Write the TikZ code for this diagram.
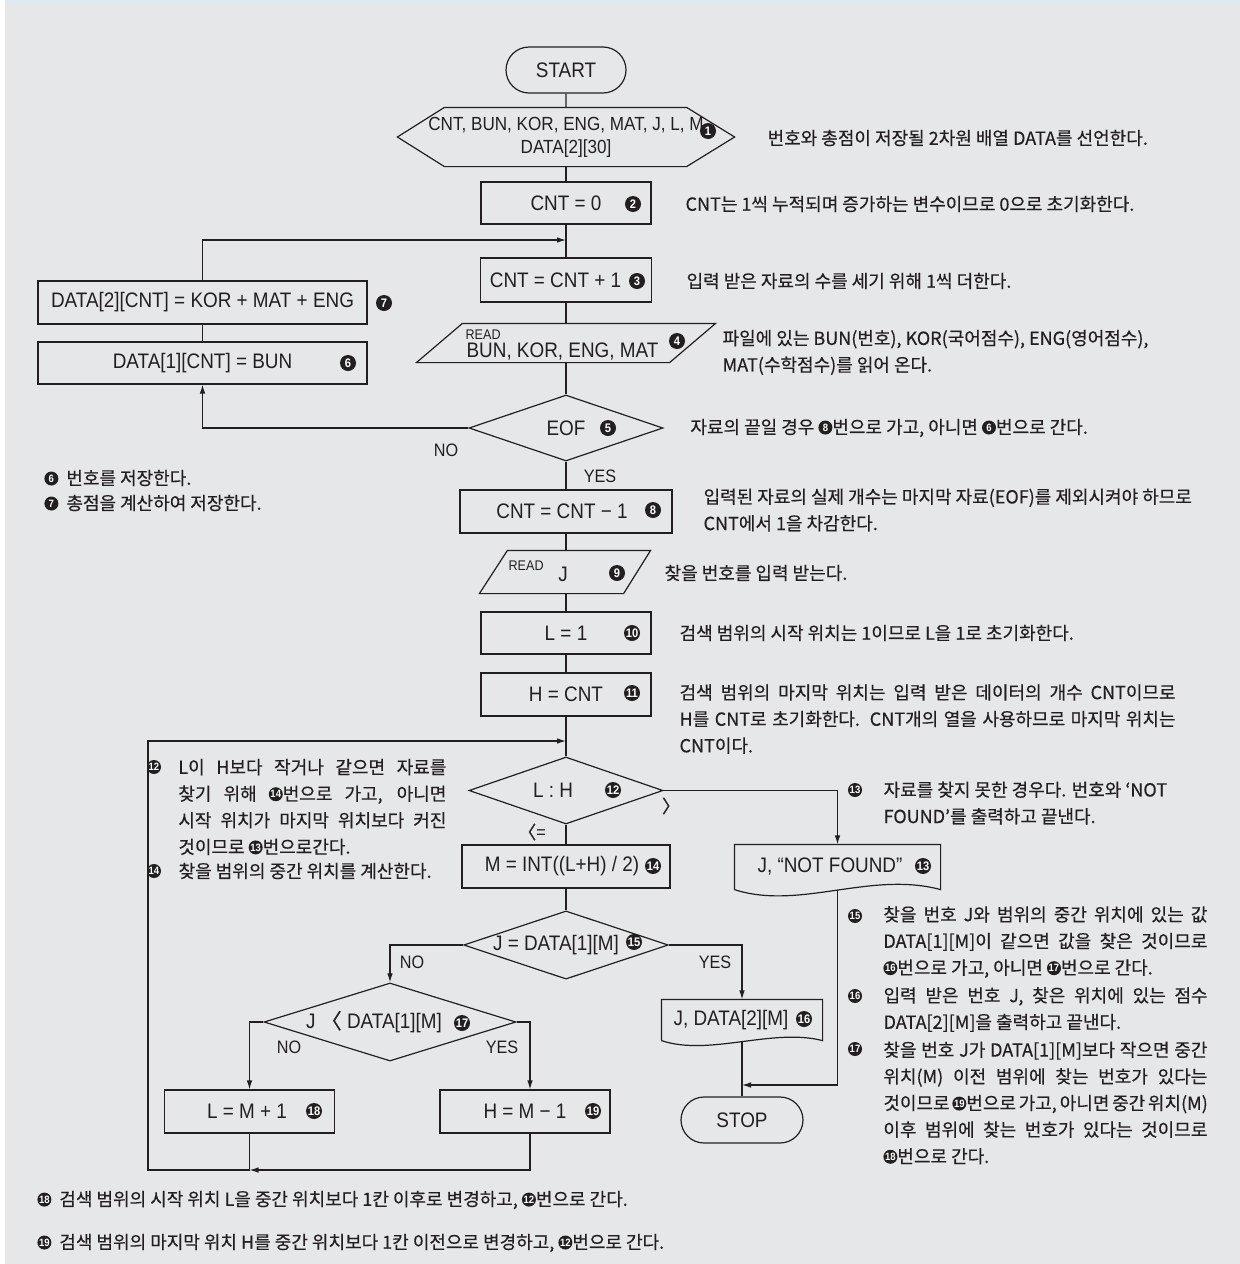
\documentclass[tikz,border=0pt]{standalone}
\usepackage{fontspec}
\setmainfont{Noto Sans CJK KR}
\newfontfamily\kr{Noto Sans CJK KR}[FakeBold=0.4]
\newfontfamily\flowlatin{Liberation Sans}[FakeStretch=0.9]
\usetikzlibrary{arrows.meta,shapes.geometric,shapes.misc}

\definecolor{bggray}{RGB}{230,231,233}
\definecolor{ink}{RGB}{35,31,32}
\definecolor{rim}{RGB}{214,236,246}

\newcommand{\flowfont}{\fontsize{10.5}{12}\flowlatin}
\newcommand{\notefont}{\fontsize{9}{13.3}\kr}
\newcommand{\cn}[1]{\tikz[baseline={(0pt,-3.1pt)}]{\fill[ink] (0pt,0pt) circle (3.5pt);
  \node[anchor=center, inner sep=0pt, draw=none, fill=none, text=white,
    font=\fontsize{5.3}{5.3}\flowlatin\bfseries] at (0pt,0pt) {#1};}}
\newcommand{\jline}[2]{\makebox[#1][s]{#2}}

\begin{document}
\begin{tikzpicture}[x=0.5pt, y=-0.5pt, line width=0.6pt, color=ink,
  box/.style={draw, rectangle, inner sep=0pt, font=\flowfont},
  term/.style={draw, rounded rectangle, inner sep=0pt, minimum width=60pt, minimum height=23pt, font=\flowfont},
  decide/.style={draw, diamond, aspect=3, inner sep=0pt, font=\flowfont},
  shell/.style={inner sep=0pt, font=\flowfont},
  num/.style={circle, fill=ink, text=white, inner sep=0pt, minimum size=8pt, font=\fontsize{6.2}{6.2}\flowlatin\bfseries},
  notemark/.style={circle, fill=ink, text=white, inner sep=0pt, minimum size=7pt, font=\fontsize{5.3}{5.3}\flowlatin\bfseries},
  readtag/.style={inner sep=0pt, font=\fontsize{7}{7}\flowlatin},
  yn/.style={inner sep=0pt, font=\fontsize{9}{10}\flowlatin},
  note/.style={anchor=west, inner sep=0pt, align=left, font=\notefont},
  flow/.style={-{Latex[length=4.5pt,width=2.8pt]}}]
  \useasboundingbox (0,0) rectangle (1240,1264);
  \fill[white] (0,0) rectangle (1240,1264);
  \fill[bggray] (5,2) rectangle (1240,1264);
  \draw[rim, line width=1.2pt] (5,1.2) -- (1240,1.2);

  % main column
  \node[term] (start) at (566,70) {START};
  \node[shell, minimum width=168pt, minimum height=29pt, align=center, font=\fontsize{9.5}{11.5}\flowlatin] (decl) at (566,137)
    {CNT, BUN, KOR, ENG, MAT, J, L, M\\DATA[2][30]};
  \draw (decl.west) -- ([xshift=23.5pt]decl.north west) -- ([xshift=-24pt]decl.north east) -- (decl.east)
        -- ([xshift=-24pt]decl.south east) -- ([xshift=23.5pt]decl.south west) -- cycle;
  \node[num] (n1) at (708,131) {1};
  \node[box, minimum width=85pt, minimum height=21pt] (cnt0) at (566,203) {CNT = 0};
  \node[num] (n2) at (633,204) {2};
  \node[box, minimum width=85.5pt, minimum height=22pt] (inc) at (566,280) {CNT = CNT + 1\hspace*{10.5pt}};
  \node[num] (n3) at (637,281) {3};
  \node[shell, minimum width=149pt, minimum height=19pt] (read1) at (566,343) {};
  \draw (read1.south west) -- ([xshift=23pt]read1.north west) -- (read1.north east) -- ([xshift=-23pt]read1.south east) -- cycle;
  \node[readtag, anchor=base west] (r1tag) at (465,339) {READ};
  \node[shell, anchor=base west] (r1txt) at (466,357) {BUN, KOR, ENG, MAT};
  \node[num] (n4) at (677,341) {4};
  \node[decide, minimum width=97pt, minimum height=33pt] (eof) at (566,428) {EOF};
  \node[num] (n5) at (608,428) {5};
  \node[yn] (no1) at (446,450) {NO};
  \node[yn] (yes1) at (600,476) {YES};

  % store loop
  \node[box, minimum width=164.5pt, minimum height=21.5pt] (dat2) at (202.5,302.5) {DATA[2][CNT] = KOR + MAT + ENG};
  \node[num] (n7) at (384,303) {7};
  \node[box, minimum width=164.5pt, minimum height=21pt] (dat1) at (202.5,363) {DATA[1][CNT] = BUN};
  \node[num] (n6) at (348,363) {6};
  \coordinate (join1) at (566,240);

  \node[box, minimum width=106pt, minimum height=21.5pt] (dec) at (566,511.5) {CNT = CNT − 1\hspace*{4pt}};
  \node[num] (n8) at (653,510) {8};
  \node[shell, minimum width=85pt, minimum height=21pt] (read2) at (565,572) {};
  \draw (read2.south west) -- ([xshift=14pt]read2.north west) -- (read2.north east) -- ([xshift=-13.5pt]read2.south east) -- cycle;
  \node[readtag, anchor=base west] (r2tag) at (508,570) {READ};
  \node[shell] (r2txt) at (563,574) {J};
  \node[num] (n9) at (617,573) {9};
  \node[box, minimum width=85pt, minimum height=21pt] (l1) at (566,633) {L = 1};
  \node[num] (n10) at (632,633) {10};
  \node[box, minimum width=85pt, minimum height=21.5pt] (h1) at (566,694.5) {H = CNT};
  \node[num] (n11) at (632,693) {11};
  \coordinate (join2) at (566,741);

  % search
  \node[decide, minimum width=97pt, minimum height=33.5pt] (lh) at (566,790.5) {L : H\hspace*{13pt}};
  \node[num] (n12) at (613,790) {12};
  \node[yn] (le) at (532,832) {{\kr 〈}=};
  \node[yn] (gt) at (671,806) {{\kr 〉}};
  \node[box, minimum width=104pt, minimum height=21.5pt] (mid) at (566,866.5) {M = INT((L+H) / 2)\hspace*{4pt}};
  \node[num] (n14) at (653,866) {14};
  \node[decide, minimum width=97pt, minimum height=33pt] (jeq) at (566,945) {J = DATA[1][M]\hspace*{10pt}};
  \node[num] (n15) at (634,942) {15};
  \node[yn] (no2) at (412,962) {NO};
  \node[yn] (yes2) at (715,962) {YES};
  \node[decide, minimum width=126pt, minimum height=33pt] (jlt) at (390,1022) {J {\kr 〈} DATA[1][M]\hspace*{16pt}};
  \node[num] (n17) at (462,1023) {17};
  \node[yn] (no3) at (289,1047) {NO};
  \node[yn] (yes3) at (502,1047) {YES};
  \node[box, minimum width=85pt, minimum height=21.5pt] (lm) at (249.5,1111.5) {L = M + 1\hspace*{2.5pt}};
  \node[num] (n18) at (314,1111) {18};
  \node[box, minimum width=85pt, minimum height=21.5pt] (hm) at (525,1111.5) {H = M − 1};
  \node[num] (n19) at (593,1111) {19};
  \coordinate (loopx) at (148,1170);

  % outputs
  \node[shell, minimum width=102.5pt, minimum height=22pt] (nf) at (837.5,867) {J, “NOT FOUND”\hspace*{7.5pt}};
  \draw (nf.south west) -- (nf.north west) -- (nf.north east) -- (nf.south east)
        .. controls ([xshift=-35pt,yshift=9.5pt]nf.south east) and ([xshift=32.5pt,yshift=-10.5pt]nf.south west) .. (nf.south west);
  \node[num] (n13) at (923,866) {13};
  \node[shell, minimum width=80pt, minimum height=20pt] (out) at (742,1020) {J, DATA[2][M]\hspace*{11pt}};
  \draw (out.south west) -- (out.north west) -- (out.north east) -- (out.south east)
        .. controls ([xshift=-25pt,yshift=6.5pt]out.south east) and ([xshift=24pt,yshift=-8pt]out.south west) .. (out.south west);
  \node[num] (n16) at (804,1019) {16};
  \node[term, minimum width=61pt] (stop) at (742,1120) {STOP};
  \coordinate (stopjoin) at (742,1085);

  % connectors
  \draw (start) -- (decl);
  \draw (decl) -- (cnt0);
  \draw (cnt0) -- (inc);
  \draw (inc) -- (read1);
  \draw (read1) -- (eof);
  \draw (eof) -- (dec);
  \draw (dec.south) -- (dec.south |- read2.north);
  \draw (read2.south -| l1.north) -- (l1.north);
  \draw (l1) -- (h1);
  \draw (h1) -- (lh);
  \draw (lh) -- (mid);
  \draw (mid) -- (jeq);
  \draw (out) -- (stop);
  \draw[flow] (eof.west) -| (dat1.south);
  \draw (dat1) -- (dat2);
  \draw[flow] (dat2.north) |- (join1);
  \draw[flow] (lh.east) -| (nf.north);
  \draw[flow] (nf.south) |- (stopjoin);
  \draw[flow] (jeq.west) -| (jlt.north);
  \draw[flow] (jeq.east) -| (out.north);
  \draw[flow] (jlt.west) -| (lm.north);
  \draw[flow] (jlt.east) -| ([xshift=2.5pt]hm.north);
  \draw[flow] ([xshift=2.5pt]hm.south) |- (lm.south |- loopx);
  \draw[flow] (lm.south) |- (loopx) |- (join2);

  % notes
  \node[note] (t1) at (767,138) {번호와 총점이 저장될 2차원 배열 DATA를 선언한다.};
  \node[note] (t2) at (685,204) {CNT는 1씩 누적되며 증가하는 변수이므로 0으로 초기화한다.};
  \node[note] (t3) at (686,281) {입력 받은 자료의 수를 세기 위해 1씩 더한다.};
  \node[note] (t4) at (722,352.5) {파일에 있는 BUN(번호), KOR(국어점수), ENG(영어점수),\\MAT(수학점수)를 읽어 온다.};
  \node[note] (t5) at (690,428) {자료의 끝일 경우 \cn{8}번으로 가고, 아니면 \cn{6}번으로 간다.};
  \node[note] (t8) at (703,510) {입력된 자료의 실제 개수는 마지막 자료(EOF)를 제외시켜야 하므로\\CNT에서 1을 차감한다.};
  \node[note] (t9) at (664,573) {찾을 번호를 입력 받는다.};
  \node[note] (t10) at (679,633) {검색 범위의 시작 위치는 1이므로 L을 1로 초기화한다.};
  \node[note] (t11) at (679,719) {\jline{248pt}{검색 범위의 마지막 위치는 입력 받은 데이터의 개수 CNT이므로}\\
    \jline{248pt}{H를 CNT로 초기화한다. CNT개의 열을 사용하므로 마지막 위치는}\\CNT이다.};
  \node[note] (t6) at (44,478) {\cn{6}\hspace{4pt}번호를 저장한다.};
  \node[note] (t7) at (44,503) {\cn{7}\hspace{4pt}총점을 계산하여 저장한다.};
  \node[notemark] (k12) at (154,767) {12};
  \node[note] (t12) at (178,807) {\jline{134pt}{L이 H보다 작거나 같으면 자료를}\\\jline{134pt}{찾기 위해 \cn{14}번으로 가고, 아니면}\\
    \jline{134pt}{시작 위치가 마지막 위치보다 커진}\\것이므로 \cn{13}번으로간다.};
  \node[notemark] (k14) at (154,871) {14};
  \node[note] (t14) at (178,871) {찾을 범위의 중간 위치를 계산한다.};
  \node[notemark] (k13) at (855,790) {13};
  \node[note] (t13) at (883,803) {자료를 찾지 못한 경우다. 번호와 ‘NOT\\FOUND’를 출력하고 끝낸다.};
  \node[notemark] (k15) at (855,916) {15};
  \node[note] (t15) at (883,942) {\jline{162pt}{찾을 번호 J와 범위의 중간 위치에 있는 값}\\\jline{162pt}{DATA[1][M]이 같으면 값을 찾은 것이므로}\\
    \cn{16}번으로 가고, 아니면 \cn{17}번으로 간다.};
  \node[notemark] (k16) at (855,996) {16};
  \node[note] (t16) at (883,1009.5) {\jline{162pt}{입력 받은 번호 J, 찾은 위치에 있는 점수}\\DATA[2][M]을 출력하고 끝낸다.};
  \node[notemark] (k17) at (855,1049) {17};
  \node[note] (t17) at (883,1103) {\jline{162pt}{찾을 번호 J가 DATA[1][M]보다 작으면 중간}\\\jline{162pt}{위치(M) 이전 범위에 찾는 번호가 있다는}\\
    \jline{162pt}{것이므로 \cn{19}번으로 가고, 아니면 중간 위치(M)}\\\jline{162pt}{이후 범위에 찾는 번호가 있다는 것이므로}\\\cn{18}번으로 간다.};
  \node[note] (t18) at (37,1200) {\cn{18}\hspace{4pt}검색 범위의 시작 위치 L을 중간 위치보다 1칸 이후로 변경하고, \cn{12}번으로 간다.};
  \node[note] (t19) at (37,1243) {\cn{19}\hspace{4pt}검색 범위의 마지막 위치 H를 중간 위치보다 1칸 이전으로 변경하고, \cn{12}번으로 간다.};
\end{tikzpicture}
\end{document}
